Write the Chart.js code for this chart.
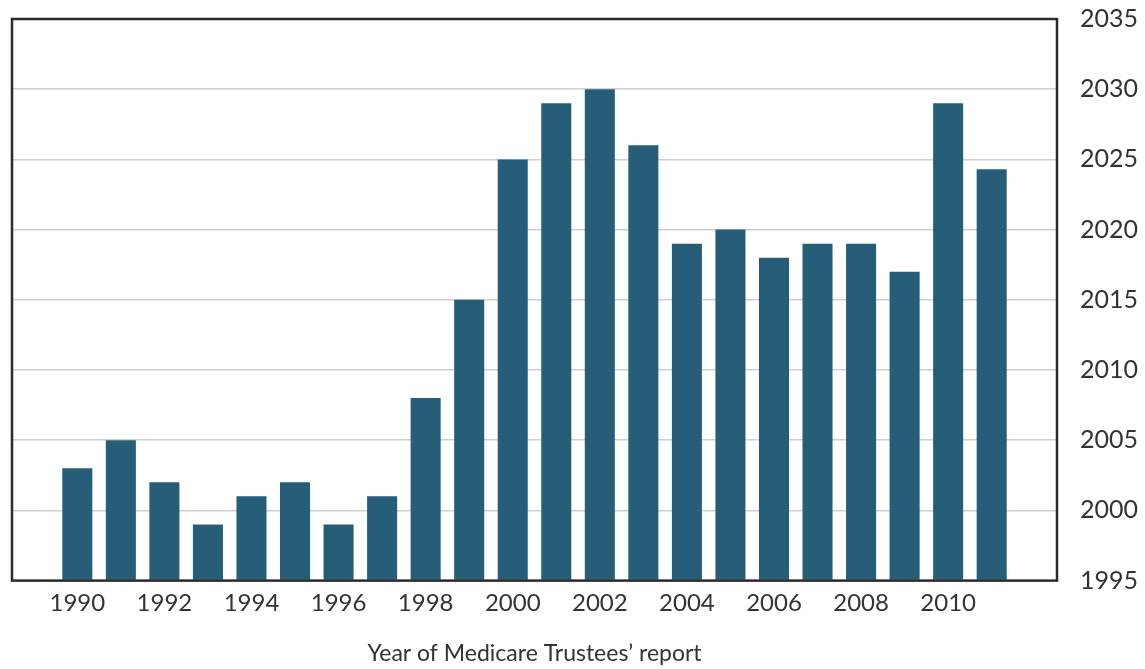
<!DOCTYPE html>
<html lang="en">
<head>
    <meta charset="UTF-8">
    <title>Medicare Trustees' report</title>
    <script src="https://cdn.jsdelivr.net/npm/chart.js"></script>
    <style>
        html, body { margin: 0; padding: 0; background: #fff; }
        #wrap { width: 1145px; height: 669px; position: relative; }
    </style>
</head>
<body>
    <div id="wrap"><canvas id="chart"></canvas></div>

    <script>
        // categories: report years (1989 and 2012 are empty slots at the edges)
        const reportYears = ['1989', '1990', '1991', '1992', '1993', '1994', '1995', '1996', '1997', '1998', '1999', '2000',
                             '2001', '2002', '2003', '2004', '2005', '2006', '2007', '2008', '2009', '2010', '2011', '2012'];
        // projected year of trust fund exhaustion
        const exhaustionYear = [null, 2003, 2005, 2002, 1999, 2001, 2002, 1999, 2001, 2008, 2015, 2025,
                                2029, 2030, 2026, 2019, 2020, 2018, 2019, 2019, 2017, 2029, 2024.3, null];
        // x labels that are shown
        const xTickLabels = ['1990', '1992', '1994', '1996', '1998', '2000', '2002', '2004', '2006', '2008', '2010'];
        const yMin = 1995, yMax = 2035, yStep = 5;

        const barColor = '#265e7a';
        const fontFamily = "'Lato', 'DejaVu Sans', sans-serif";

        // frame round the plot area
        const framePlugin = {
            id: 'frame',
            afterDraw(chart) {
                const { ctx, chartArea: a } = chart;
                ctx.save();
                ctx.strokeStyle = '#2b2b2b';
                ctx.lineWidth = 2.5;
                ctx.strokeRect(a.left, a.top, a.right - a.left, a.bottom - a.top);
                ctx.restore();
            }
        };

        new Chart(document.getElementById('chart'), {
            type: 'bar',
            data: {
                labels: reportYears,
                datasets: [{
                    data: exhaustionYear,
                    backgroundColor: barColor,
                    borderWidth: 0,
                    barPercentage: 0.69,
                    categoryPercentage: 1.0,
                    base: yMin
                }]
            },
            options: {
                responsive: true,
                maintainAspectRatio: false,
                animation: false,
                layout: { padding: { left: 12, top: 0, right: 0, bottom: 2 } },
                plugins: {
                    legend: { display: false },
                    tooltip: { enabled: false }
                },
                scales: {
                    x: {
                        grid: { display: false, drawTicks: false },
                        border: { display: false },
                        ticks: {
                            autoSkip: false,
                            maxRotation: 0,
                            padding: 8,
                            color: '#333',
                            font: { family: fontFamily, size: 24 },
                            callback: function (value) {
                                const lab = this.getLabelForValue(value);
                                return xTickLabels.includes(lab) ? lab : '';
                            }
                        },
                        title: {
                            display: true,
                            text: 'Year of Medicare Trustees’ report',
                            color: '#333',
                            font: { family: fontFamily, size: 23 },
                            padding: { top: 14, bottom: 0 }
                        }
                    },
                    y: {
                        position: 'right',
                        min: yMin,
                        max: yMax,
                        grid: { color: '#cfcfcf', lineWidth: 1.5, drawTicks: false },
                        border: { display: false },
                        ticks: {
                            stepSize: yStep,
                            padding: 23,
                            color: '#333',
                            font: { family: fontFamily, size: 25 },
                            callback: v => String(v)
                        },
                        afterFit: function (scale) {
                            scale.width = 88;
                            scale.paddingTop = 19;
                        }
                    }
                }
            },
            plugins: [framePlugin]
        });
    </script>
</body>
</html>
